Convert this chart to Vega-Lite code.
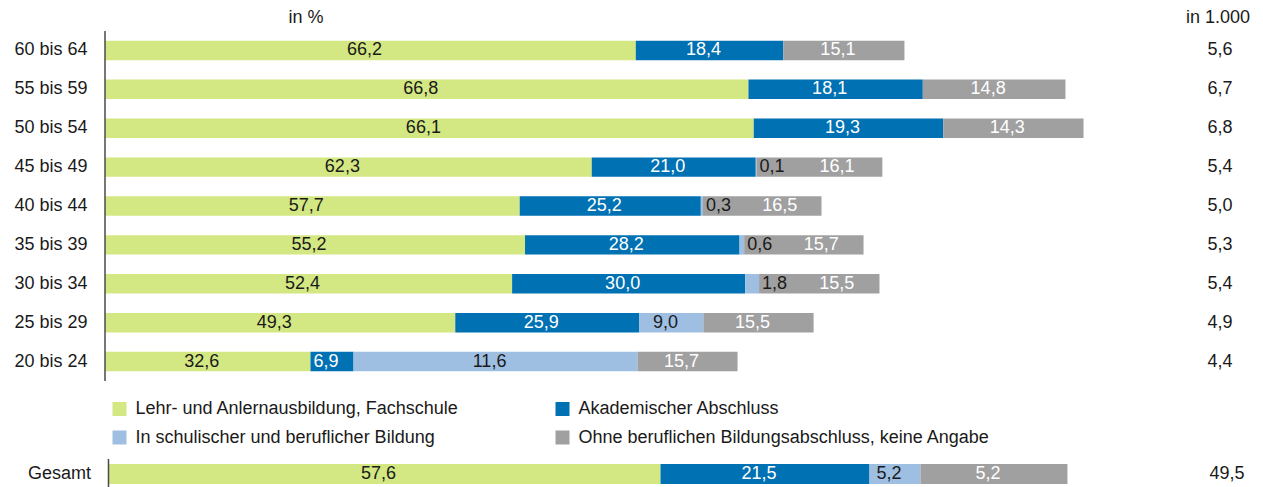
{
  "$schema": "https://vega.github.io/schema/vega-lite/v6.json",
  "padding": {"left": 13, "top": 8, "right": 0, "bottom": 0},
  "background": "white",
  "config": {
    "font": "Liberation Sans",
    "view": {"stroke": null},
    "text": {"fontSize": 18, "baseline": "middle", "font": "Liberation Sans"}
  },
  "datasets": {
    "rows": [
      {"age": "60 bis 64", "cat": "Lehr- und Anlernausbildung, Fachschule", "k": 1, "pct": 66.2, "label": "66,2", "tsd": 3.699},
      {"age": "60 bis 64", "cat": "Akademischer Abschluss", "k": 2, "pct": 18.4, "label": "18,4", "tsd": 1.028},
      {"age": "60 bis 64", "cat": "Ohne beruflichen Bildungsabschluss, keine Angabe", "k": 4, "pct": 15.1, "label": "15,1", "tsd": 0.844},
      {"age": "55 bis 59", "cat": "Lehr- und Anlernausbildung, Fachschule", "k": 1, "pct": 66.8, "label": "66,8", "tsd": 4.484},
      {"age": "55 bis 59", "cat": "Akademischer Abschluss", "k": 2, "pct": 18.1, "label": "18,1", "tsd": 1.215},
      {"age": "55 bis 59", "cat": "Ohne beruflichen Bildungsabschluss, keine Angabe", "k": 4, "pct": 14.8, "label": "14,8", "tsd": 0.994},
      {"age": "50 bis 54", "cat": "Lehr- und Anlernausbildung, Fachschule", "k": 1, "pct": 66.1, "label": "66,1", "tsd": 4.521},
      {"age": "50 bis 54", "cat": "Akademischer Abschluss", "k": 2, "pct": 19.3, "label": "19,3", "tsd": 1.320},
      {"age": "50 bis 54", "cat": "Ohne beruflichen Bildungsabschluss, keine Angabe", "k": 4, "pct": 14.3, "label": "14,3", "tsd": 0.978},
      {"age": "45 bis 49", "cat": "Lehr- und Anlernausbildung, Fachschule", "k": 1, "pct": 62.3, "label": "62,3", "tsd": 3.392},
      {"age": "45 bis 49", "cat": "Akademischer Abschluss", "k": 2, "pct": 21.0, "label": "21,0", "tsd": 1.143},
      {"age": "45 bis 49", "cat": "In schulischer und beruflicher Bildung", "k": 3, "pct": 0.1, "label": "0,1", "tsd": 0.005},
      {"age": "45 bis 49", "cat": "Ohne beruflichen Bildungsabschluss, keine Angabe", "k": 4, "pct": 16.1, "label": "16,1", "tsd": 0.877},
      {"age": "40 bis 44", "cat": "Lehr- und Anlernausbildung, Fachschule", "k": 1, "pct": 57.7, "label": "57,7", "tsd": 2.890},
      {"age": "40 bis 44", "cat": "Akademischer Abschluss", "k": 2, "pct": 25.2, "label": "25,2", "tsd": 1.262},
      {"age": "40 bis 44", "cat": "In schulischer und beruflicher Bildung", "k": 3, "pct": 0.3, "label": "0,3", "tsd": 0.015},
      {"age": "40 bis 44", "cat": "Ohne beruflichen Bildungsabschluss, keine Angabe", "k": 4, "pct": 16.5, "label": "16,5", "tsd": 0.826},
      {"age": "35 bis 39", "cat": "Lehr- und Anlernausbildung, Fachschule", "k": 1, "pct": 55.2, "label": "55,2", "tsd": 2.927},
      {"age": "35 bis 39", "cat": "Akademischer Abschluss", "k": 2, "pct": 28.2, "label": "28,2", "tsd": 1.495},
      {"age": "35 bis 39", "cat": "In schulischer und beruflicher Bildung", "k": 3, "pct": 0.6, "label": "0,6", "tsd": 0.032},
      {"age": "35 bis 39", "cat": "Ohne beruflichen Bildungsabschluss, keine Angabe", "k": 4, "pct": 15.7, "label": "15,7", "tsd": 0.832},
      {"age": "30 bis 34", "cat": "Lehr- und Anlernausbildung, Fachschule", "k": 1, "pct": 52.4, "label": "52,4", "tsd": 2.837},
      {"age": "30 bis 34", "cat": "Akademischer Abschluss", "k": 2, "pct": 30.0, "label": "30,0", "tsd": 1.624},
      {"age": "30 bis 34", "cat": "In schulischer und beruflicher Bildung", "k": 3, "pct": 1.8, "label": "1,8", "tsd": 0.097},
      {"age": "30 bis 34", "cat": "Ohne beruflichen Bildungsabschluss, keine Angabe", "k": 4, "pct": 15.5, "label": "15,5", "tsd": 0.839},
      {"age": "25 bis 29", "cat": "Lehr- und Anlernausbildung, Fachschule", "k": 1, "pct": 49.3, "label": "49,3", "tsd": 2.441},
      {"age": "25 bis 29", "cat": "Akademischer Abschluss", "k": 2, "pct": 25.9, "label": "25,9", "tsd": 1.283},
      {"age": "25 bis 29", "cat": "In schulischer und beruflicher Bildung", "k": 3, "pct": 9.0, "label": "9,0", "tsd": 0.446},
      {"age": "25 bis 29", "cat": "Ohne beruflichen Bildungsabschluss, keine Angabe", "k": 4, "pct": 15.5, "label": "15,5", "tsd": 0.768},
      {"age": "20 bis 24", "cat": "Lehr- und Anlernausbildung, Fachschule", "k": 1, "pct": 32.6, "label": "32,6", "tsd": 1.432},
      {"age": "20 bis 24", "cat": "Akademischer Abschluss", "k": 2, "pct": 6.9, "label": "6,9", "tsd": 0.300},
      {"age": "20 bis 24", "cat": "In schulischer und beruflicher Bildung", "k": 3, "pct": 11.6, "label": "11,6", "tsd": 1.979},
      {"age": "20 bis 24", "cat": "Ohne beruflichen Bildungsabschluss, keine Angabe", "k": 4, "pct": 15.7, "label": "15,7", "tsd": 0.697}
    ],
    "totals": [
      {"age": "60 bis 64", "total": "5,6"},
      {"age": "55 bis 59", "total": "6,7"},
      {"age": "50 bis 54", "total": "6,8"},
      {"age": "45 bis 49", "total": "5,4"},
      {"age": "40 bis 44", "total": "5,0"},
      {"age": "35 bis 39", "total": "5,3"},
      {"age": "30 bis 34", "total": "5,4"},
      {"age": "25 bis 29", "total": "4,9"},
      {"age": "20 bis 24", "total": "4,4"}
    ],
    "gesamt": [
      {"age": "Gesamt", "cat": "Lehr- und Anlernausbildung, Fachschule", "k": 1, "pct": 57.6, "label": "57,6", "tsd": 28.50},
      {"age": "Gesamt", "cat": "Akademischer Abschluss", "k": 2, "pct": 21.5, "label": "21,5", "tsd": 10.79},
      {"age": "Gesamt", "cat": "In schulischer und beruflicher Bildung", "k": 3, "pct": 5.2, "label": "5,2", "tsd": 2.63},
      {"age": "Gesamt", "cat": "Ohne beruflichen Bildungsabschluss, keine Angabe", "k": 4, "pct": 5.2, "label": "5,2", "tsd": 7.59}
    ],
    "gesamtTotal": [
      {"age": "Gesamt", "total": "49,5"}
    ],
    "one": [{"v": 0}]
  },
  "spacing": 11,
  "resolve": {"scale": {"color": "independent"}},
  "vconcat": [
    {
      "width": 1148,
      "height": 350,
      "resolve": {"axis": {"y": "independent"}},
      "layer": [
        {
          "data": {"name": "rows"},
          "mark": {"type": "bar"},
          "encoding": {
            "y": {"field": "age", "type": "nominal",
              "scale": {"domain": ["60 bis 64", "55 bis 59", "50 bis 54", "45 bis 49", "40 bis 44", "35 bis 39", "30 bis 34", "25 bis 29", "20 bis 24"], "paddingInner": 0.5, "paddingOuter": 0.25},
              "axis": {"title": "in %", "titleAngle": 0, "titleX": 200.5, "titleY": -14, "titleAlign": "center", "titleBaseline": "middle", "titleFontSize": 18, "titleFontWeight": "normal", "titleColor": "#1a1a1a", "labelFontSize": 18, "labelColor": "#1a1a1a", "labelPadding": 18, "ticks": false, "domain": false}},
            "x": {"field": "tsd", "type": "quantitative", "stack": "zero", "scale": {"domain": [0, 8], "nice": false}, "axis": null},
            "color": {"field": "cat", "type": "nominal",
              "scale": {"domain": ["Lehr- und Anlernausbildung, Fachschule", "Akademischer Abschluss", "In schulischer und beruflicher Bildung", "Ohne beruflichen Bildungsabschluss, keine Angabe"], "range": ["#d3e782", "#0071b3", "#9ebfe2", "#a0a0a1"]},
              "legend": {"title": null, "orient": "none", "legendX": 5.5, "legendY": 369, "direction": "horizontal", "columns": 2, "symbolType": "square", "symbolSize": 196, "symbolStrokeWidth": 0, "symbolOpacity": 1, "labelFontSize": 18, "labelColor": "#1a1a1a", "labelOffset": 7, "columnPadding": 94, "rowPadding": 10.5, "labelLimit": 0, "padding": 0}},
            "order": {"field": "k", "type": "quantitative"}
          }
        },
        {
          "data": {"name": "rows"},
          "transform": [{"joinaggregate": [{"op": "min", "field": "pct", "as": "minpct"}], "groupby": ["age"]}],
          "mark": {"type": "text", "dx": -6, "align": "center", "baseline": "middle", "fontSize": 18},
          "encoding": {
            "y": {"field": "age", "type": "nominal", "scale": {"domain": ["60 bis 64", "55 bis 59", "50 bis 54", "45 bis 49", "40 bis 44", "35 bis 39", "30 bis 34", "25 bis 29", "20 bis 24"], "paddingInner": 0.5, "paddingOuter": 0.25}, "axis": null},
            "x": {"field": "tsd", "type": "quantitative", "stack": "zero", "bandPosition": 0.5, "scale": {"domain": [0, 8], "nice": false}, "axis": null},
            "detail": {"field": "cat", "type": "nominal"},
            "order": {"field": "k", "type": "quantitative"},
            "text": {"field": "label", "condition": {"test": "datum.pct < 2 || (datum.k == 4 && datum.minpct < 2)", "value": ""}},
            "color": {"condition": {"test": "datum.k == 2 || datum.k == 4", "value": "#ffffff"}, "value": "#1a1a1a"}
          }
        },
        {
          "data": {"name": "rows"},
          "transform": [{"joinaggregate": [{"op": "min", "field": "pct", "as": "minpct"}], "groupby": ["age"]}],
          "mark": {"type": "text", "dx": 17.5, "align": "center", "baseline": "middle", "fontSize": 18, "color": "#ffffff"},
          "encoding": {
            "y": {"field": "age", "type": "nominal", "scale": {"domain": ["60 bis 64", "55 bis 59", "50 bis 54", "45 bis 49", "40 bis 44", "35 bis 39", "30 bis 34", "25 bis 29", "20 bis 24"], "paddingInner": 0.5, "paddingOuter": 0.25}, "axis": null},
            "x": {"field": "tsd", "type": "quantitative", "stack": "zero", "bandPosition": 0.5, "scale": {"domain": [0, 8], "nice": false}, "axis": null},
            "detail": {"field": "cat", "type": "nominal"},
            "order": {"field": "k", "type": "quantitative"},
            "text": {"field": "label", "condition": {"test": "!(datum.k == 4 && datum.minpct < 2)", "value": ""}}
          }
        },
        {
          "data": {"name": "rows"},
          "mark": {"type": "text", "dx": 3, "align": "left", "baseline": "middle", "fontSize": 18, "color": "#1a1a1a"},
          "encoding": {
            "y": {"field": "age", "type": "nominal", "scale": {"domain": ["60 bis 64", "55 bis 59", "50 bis 54", "45 bis 49", "40 bis 44", "35 bis 39", "30 bis 34", "25 bis 29", "20 bis 24"], "paddingInner": 0.5, "paddingOuter": 0.25}, "axis": null},
            "x": {"field": "tsd", "type": "quantitative", "stack": "zero", "scale": {"domain": [0, 8], "nice": false}, "axis": null},
            "detail": {"field": "cat", "type": "nominal"},
            "order": {"field": "k", "type": "quantitative"},
            "text": {"field": "label", "condition": {"test": "datum.pct >= 2", "value": ""}}
          }
        },
        {
          "data": {"name": "one"},
          "mark": {"type": "rule", "color": "#4a4a4a", "strokeWidth": 1.5},
          "encoding": {
            "x": {"datum": 0, "type": "quantitative", "scale": {"domain": [0, 8], "nice": false}, "axis": null}
          }
        },
        {
          "data": {"name": "totals"},
          "mark": {"type": "text", "align": "left", "baseline": "middle", "fontSize": 18, "color": "#1a1a1a"},
          "encoding": {
            "y": {"field": "age", "type": "nominal", "scale": {"domain": ["60 bis 64", "55 bis 59", "50 bis 54", "45 bis 49", "40 bis 44", "35 bis 39", "30 bis 34", "25 bis 29", "20 bis 24"], "paddingInner": 0.5, "paddingOuter": 0.25},
              "axis": {"orient": "right", "title": "in 1.000", "titleAngle": 0, "titleX": -35.5, "titleY": -14, "titleAlign": "center", "titleBaseline": "middle", "titleFontSize": 18, "titleFontWeight": "normal", "titleColor": "#1a1a1a", "labels": false, "ticks": false, "domain": false}},
            "x": {"datum": 7.683, "type": "quantitative", "scale": {"domain": [0, 8], "nice": false}, "axis": null},
            "text": {"field": "total", "type": "nominal"}
          }
        }
      ]
    },
    {
      "width": 1148,
      "height": 30,
      "layer": [
        {
          "data": {"name": "gesamt"},
          "mark": {"type": "bar"},
          "encoding": {
            "y": {"field": "age", "type": "nominal", "scale": {"domain": ["Gesamt"], "paddingInner": 0, "paddingOuter": 0.25},
              "axis": {"title": null, "labelFontSize": 18, "labelColor": "#1a1a1a", "labelPadding": 14.5, "ticks": false, "domain": false}},
            "x": {"field": "tsd", "type": "quantitative", "stack": "zero", "scale": {"domain": [-0.18, 59.09], "nice": false, "zero": false}, "axis": null},
            "color": {"field": "cat", "type": "nominal",
              "scale": {"domain": ["Lehr- und Anlernausbildung, Fachschule", "Akademischer Abschluss", "In schulischer und beruflicher Bildung", "Ohne beruflichen Bildungsabschluss, keine Angabe"], "range": ["#d3e782", "#0071b3", "#9ebfe2", "#a0a0a1"]},
              "legend": null},
            "order": {"field": "k", "type": "quantitative"}
          }
        },
        {
          "data": {"name": "gesamt"},
          "mark": {"type": "text", "dx": -6, "align": "center", "baseline": "middle", "fontSize": 18},
          "encoding": {
            "y": {"field": "age", "type": "nominal", "scale": {"domain": ["Gesamt"], "paddingInner": 0, "paddingOuter": 0.25}},
            "x": {"field": "tsd", "type": "quantitative", "stack": "zero", "bandPosition": 0.5, "scale": {"domain": [-0.18, 59.09], "nice": false, "zero": false}, "axis": null},
            "detail": {"field": "cat", "type": "nominal"},
            "order": {"field": "k", "type": "quantitative"},
            "text": {"field": "label"},
            "color": {"condition": {"test": "datum.k == 2 || datum.k == 4", "value": "#ffffff"}, "value": "#1a1a1a"}
          }
        },
        {
          "data": {"name": "one"},
          "mark": {"type": "rule", "color": "#4a4a4a", "strokeWidth": 1.5},
          "encoding": {
            "x": {"datum": 0, "type": "quantitative", "scale": {"domain": [-0.18, 59.09], "nice": false, "zero": false}, "axis": null}
          }
        },
        {
          "data": {"name": "gesamtTotal"},
          "mark": {"type": "text", "align": "left", "baseline": "middle", "fontSize": 18, "color": "#1a1a1a"},
          "encoding": {
            "y": {"field": "age", "type": "nominal", "scale": {"domain": ["Gesamt"], "paddingInner": 0, "paddingOuter": 0.25}},
            "x": {"datum": 56.84, "type": "quantitative", "scale": {"domain": [-0.18, 59.09], "nice": false, "zero": false}, "axis": null},
            "text": {"field": "total", "type": "nominal"}
          }
        }
      ]
    }
  ]
}
